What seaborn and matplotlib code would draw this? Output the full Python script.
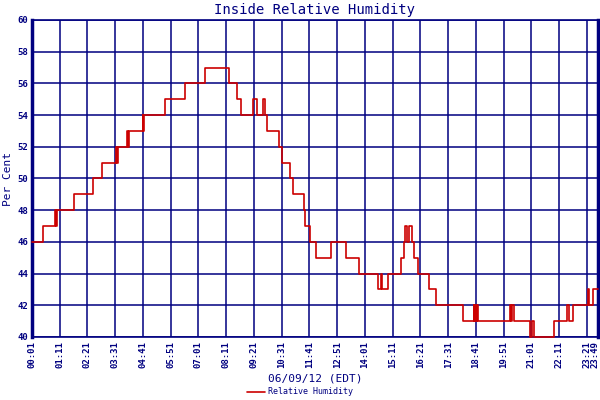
import pandas as pd
import matplotlib.pyplot as plt
import matplotlib.transforms as mtransforms
import seaborn as sns

# change points of the reading (time of day) and the value from then on
times = ["00:01", "00:28", "00:58", "01:01", "01:03", "01:46", "02:36", "02:57",
         "03:32", "03:36", "03:38", "04:00", "04:03", "04:05", "04:40", "04:42",
         "04:43", "05:36", "06:26", "07:17", "08:19", "08:37", "08:49", "09:18",
         "09:28", "09:45", "09:49", "09:54", "10:25", "10:32", "10:53", "11:00",
         "11:27", "11:29", "11:43", "11:57", "12:35", "13:13", "13:46", "14:34",
         "14:41", "14:44", "14:58", "15:33", "15:40", "15:43", "15:46", "15:52",
         "15:59", "16:06", "16:16", "16:43", "17:01", "18:08", "18:35", "18:37",
         "18:39", "18:41", "18:43", "18:45", "20:07", "20:10", "20:12", "20:18",
         "20:58", "21:03", "21:08", "21:58", "22:31", "22:35", "22:45", "23:23",
         "23:27", "23:36", "23:49"]
humidity = [46, 47, 48, 47, 48, 49, 50, 51,
            52, 51, 52, 53, 52, 53, 54, 53,
            54, 55, 56, 57, 56, 55, 54, 55,
            54, 55, 54, 53, 52, 51, 50, 49,
            48, 47, 46, 45, 46, 45, 44, 43,
            44, 43, 44, 45, 46, 47, 46, 47,
            46, 45, 44, 43, 42, 41, 42, 41,
            42, 41, 42, 41, 42, 41, 42, 41,
            40, 41, 40, 41, 42, 41, 42, 43,
            42, 43, 43]

tick_labels = ["00:01", "01:11", "02:21", "03:31", "04:41", "05:51", "07:01",
               "08:11", "09:21", "10:31", "11:41", "12:51", "14:01", "15:11",
               "16:21", "17:31", "18:41", "19:51", "21:01", "22:11", "23:21",
               "23:49"]


def to_min(s):
    h, m = s.split(":")
    return int(h) * 60 + int(m)


df = pd.DataFrame({"t": [to_min(s) for s in times], "rh": humidity})

navy = "#000080"
sns.set_style("white")
plt.rcParams["font.family"] = ["DejaVu Sans Mono"]

fig = plt.figure(figsize=(6, 4), dpi=100)
ax = fig.add_axes([0.0533, 0.1575, 0.9434, 0.7925])

sns.lineplot(data=df, x="t", y="rh", ax=ax, color="#cc0000", lw=1.2,
             drawstyle="steps-post", label="Relative Humidity", legend=False,
             zorder=5, clip_on=False)

ax.set_xlim(to_min("00:01"), to_min("23:49"))
ax.set_ylim(40, 60)
ax.set_yticks(range(40, 61, 2))
ax.set_xticks([to_min(s) for s in tick_labels])
ax.set_xticklabels(tick_labels, rotation=90)
ax.grid(True, color=navy, lw=1.1)
ax.set_axisbelow(True)
ax.tick_params(axis="both", colors=navy, labelsize=6.5, length=0, pad=3)
for lbl in ax.get_xticklabels() + ax.get_yticklabels():
    lbl.set_fontweight("bold")
# last label sits right at the edge, nudge it a little to the left
last = ax.get_xticklabels()[-1]
last.set_transform(last.get_transform()
                   + mtransforms.ScaledTranslation(-2.5 / 72, 0, fig.dpi_scale_trans))
for side in ["top", "bottom"]:
    ax.spines[side].set_color(navy)
    ax.spines[side].set_linewidth(1.2)
for side in ["left", "right"]:
    ax.spines[side].set_color(navy)
    ax.spines[side].set_linewidth(2.5)

ax.set_title("Inside Relative Humidity", color=navy, fontsize=10, pad=4)
ax.set_xlabel("06/09/12 (EDT)", color=navy, fontsize=8, labelpad=4)
ax.set_ylabel("Per Cent", color=navy, fontsize=8, labelpad=3)

h, l = ax.get_legend_handles_labels()
fig.legend(h, l, loc="lower center", bbox_to_anchor=(0.5, -0.01), frameon=False,
           fontsize=6, labelcolor=navy, handlelength=2.2, handletextpad=0.3)

plt.savefig("out.png", dpi=100)
plt.close()
